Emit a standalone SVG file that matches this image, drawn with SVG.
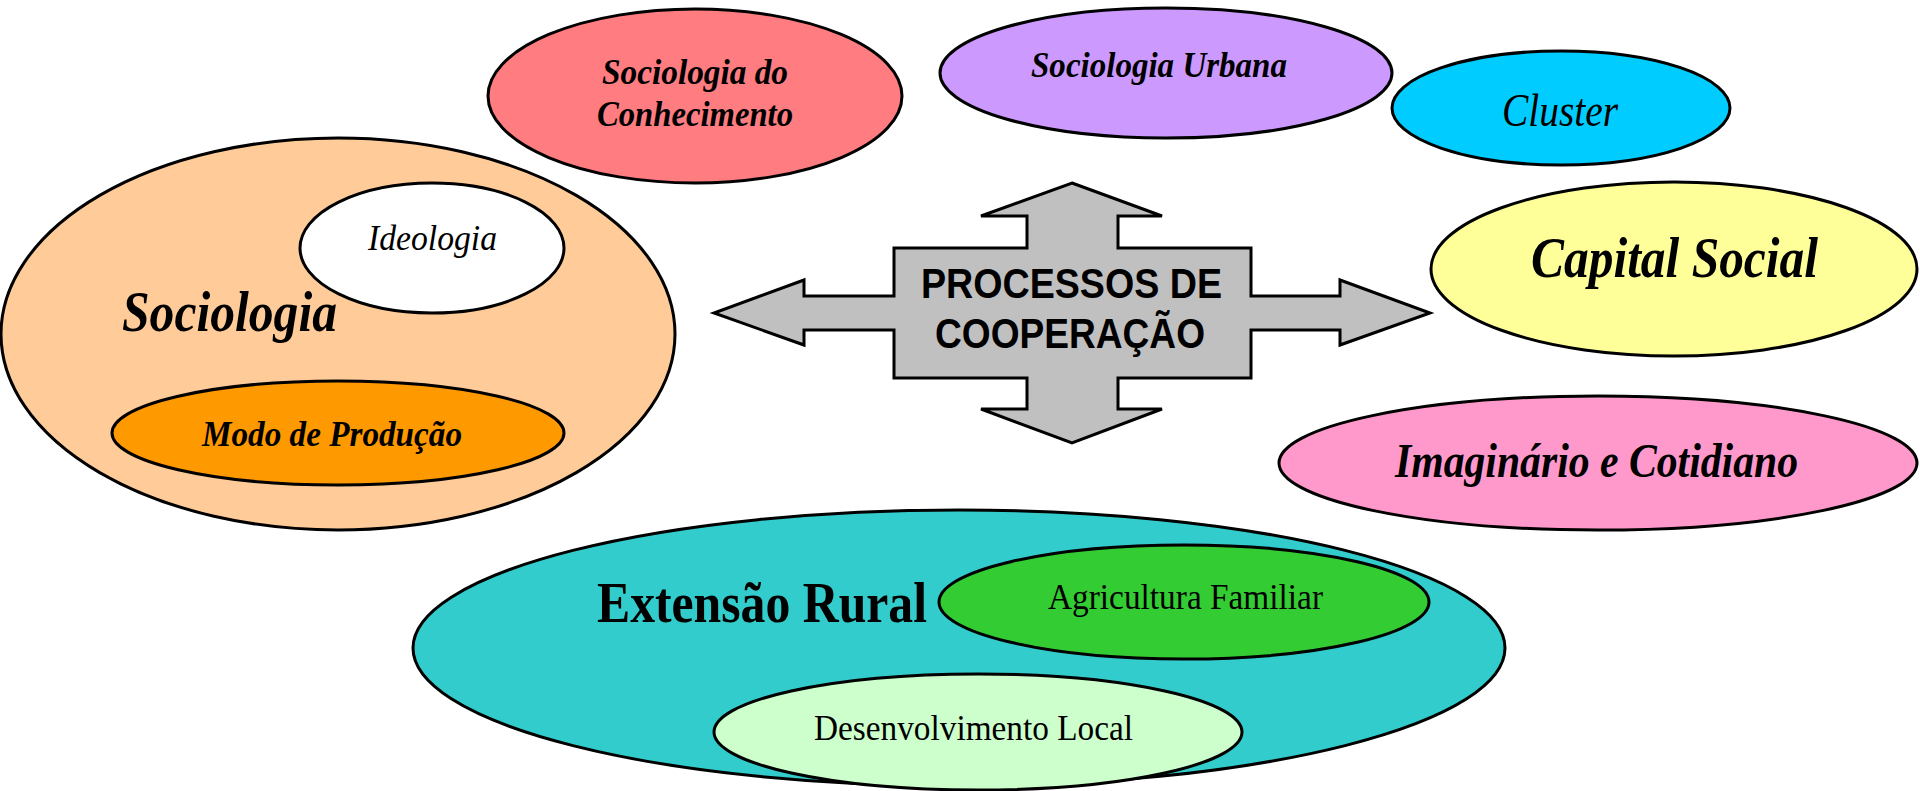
<svg xmlns="http://www.w3.org/2000/svg" width="1920" height="791" viewBox="0 0 1920 791">
<style>
  .shape { stroke: #000; stroke-width: 3; }
  .t { font-family: "Liberation Serif", "Times New Roman", serif; fill: #000; }
  .bi { font-weight: bold; font-style: italic; }
  .i { font-style: italic; }
  .b { font-weight: bold; }
  .sans { font-family: "Liberation Sans", Arial, sans-serif; font-weight: bold; fill: #000; }
</style>
<rect width="1920" height="791" fill="#ffffff"/>

<g id="sociologia">
  <ellipse class="shape" cx="338" cy="334" rx="337" ry="196" fill="#FFCC99"/>
  <text class="t bi" x="122" y="331" font-size="56" textLength="215" lengthAdjust="spacingAndGlyphs">Sociologia</text>
</g>
<g id="ideologia">
  <ellipse class="shape" cx="432" cy="248" rx="132" ry="65" fill="#FFFFFF"/>
  <text class="t i" x="368" y="250" font-size="36" textLength="129" lengthAdjust="spacingAndGlyphs">Ideologia</text>
</g>
<g id="modo-producao">
  <ellipse class="shape" cx="338" cy="433" rx="226" ry="52" fill="#FF9900"/>
  <text class="t bi" x="202" y="446" font-size="36" textLength="260" lengthAdjust="spacingAndGlyphs">Modo de Produção</text>
</g>

<g id="sociologia-conhecimento">
  <ellipse class="shape" cx="695" cy="96" rx="207" ry="87" fill="#FF7C80"/>
  <text class="t bi" x="602" y="84" font-size="36" textLength="186" lengthAdjust="spacingAndGlyphs">Sociologia do</text>
  <text class="t bi" x="597" y="126" font-size="36" textLength="196" lengthAdjust="spacingAndGlyphs">Conhecimento</text>
</g>

<g id="sociologia-urbana">
  <ellipse class="shape" cx="1166" cy="73" rx="226" ry="65" fill="#CC99FF"/>
  <text class="t bi" x="1031" y="77" font-size="36" textLength="256" lengthAdjust="spacingAndGlyphs">Sociologia Urbana</text>
</g>

<g id="cluster">
  <ellipse class="shape" cx="1561" cy="108" rx="169" ry="57" fill="#00CCFF"/>
  <text class="t i" x="1502" y="126" font-size="46" textLength="116" lengthAdjust="spacingAndGlyphs">Cluster</text>
</g>

<g id="capital-social">
  <ellipse class="shape" cx="1674" cy="269" rx="243" ry="87" fill="#FFFF99"/>
  <text class="t bi" x="1531" y="277" font-size="58" textLength="287" lengthAdjust="spacingAndGlyphs">Capital Social</text>
</g>

<g id="imaginario-cotidiano">
  <ellipse class="shape" cx="1598" cy="463" rx="319" ry="67" fill="#FF99CC"/>
  <text class="t bi" x="1395" y="477" font-size="48" textLength="403" lengthAdjust="spacingAndGlyphs">Imaginário e Cotidiano</text>
</g>

<g id="extensao-rural">
  <ellipse class="shape" cx="959" cy="648" rx="546" ry="138" fill="#33CCCC"/>
  <text class="t b" x="597" y="622" font-size="56" textLength="330" lengthAdjust="spacingAndGlyphs">Extensão Rural</text>
</g>
<g id="agricultura-familiar">
  <ellipse class="shape" cx="1184" cy="602" rx="245" ry="57" fill="#33CC33"/>
  <text class="t" x="1048" y="609" font-size="36" textLength="275" lengthAdjust="spacingAndGlyphs">Agricultura Familiar</text>
</g>
<g id="desenvolvimento-local">
  <ellipse class="shape" cx="978" cy="732" rx="264" ry="58" fill="#CCFFCC"/>
  <text class="t" x="814" y="740" font-size="36" textLength="319" lengthAdjust="spacingAndGlyphs">Desenvolvimento Local</text>
</g>

<g id="processos-cooperacao">
  <polygon class="shape" fill="#C0C0C0" stroke-linejoin="miter" points="1072,183 1162,216 1118,216 1118,248 1251,248 1251,296 1340,296 1340,280 1430,313 1340,345 1340,330 1251,330 1251,378 1118,378 1118,409 1162,409 1072,443 981,409 1027,409 1027,378 894,378 894,330 804,330 804,345 714,313 804,280 804,296 894,296 894,248 1027,248 1027,216 981,216"/>
  <text class="sans" x="921" y="298" font-size="43" textLength="301" lengthAdjust="spacingAndGlyphs">PROCESSOS DE</text>
  <text class="sans" x="935" y="348" font-size="43" textLength="270" lengthAdjust="spacingAndGlyphs">COOPERAÇÃO</text>
</g>

<g id="connectors"></g>
</svg>
